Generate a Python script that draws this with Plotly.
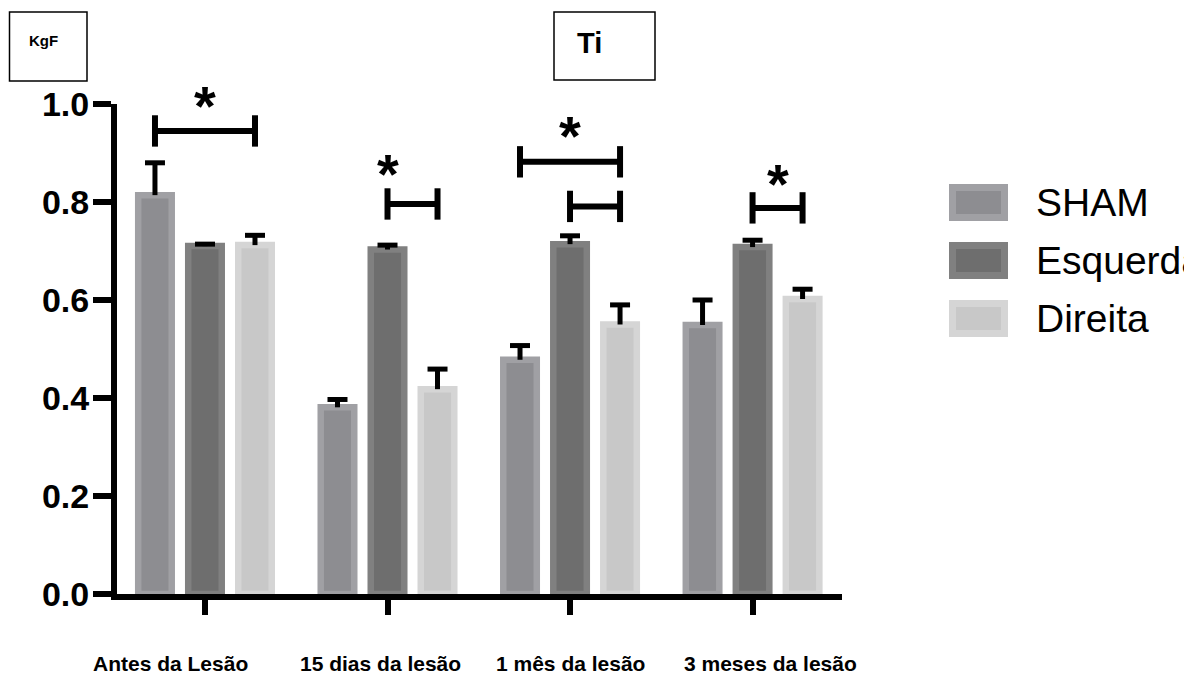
import plotly.graph_objects as go

categories = ["Antes da Lesão", "15 dias da lesão", "1 mês da lesão", "3 meses da lesão"]
series_names = ["SHAM", "Esquerda", "Direita"]

sham = [0.814, 0.381, 0.478, 0.549]
sham_err = [0.066, 0.016, 0.029, 0.051]
esquerda = [0.710, 0.703, 0.714, 0.708]
esquerda_err = [0.004, 0.009, 0.017, 0.014]
direita = [0.712, 0.418, 0.550, 0.602]
direita_err = [0.020, 0.041, 0.040, 0.020]

y_ticks = [0.0, 0.2, 0.4, 0.6, 0.8, 1.0]

# significance brackets: (group index, series a, series b, bracket level)
sig_brackets = [(0, 0, 2, 0.945), (1, 1, 2, 0.796), (2, 0, 2, 0.882), (2, 1, 2, 0.791), (3, 1, 2, 0.788)]
# stars: (bracket index, fraction along bracket, pixel gap above bracket)
sig_stars = [(0, 0.5, 32), (1, 0.0, 37), (2, 0.5, 33), (4, 0.5, 31)]

fill_inner = ["#8d8d91", "#6e6e6e", "#c8c8c8"]
fill_outer = ["#a0a0a4", "#808080", "#d5d5d5"]

values = [sham, esquerda, direita]
errors = [sham_err, esquerda_err, direita_err]

# layout geometry (pixels); page body has an 8px margin
OFF = 8
W, H = 1192 - OFF, 675 - OFF
ML, MR, MT, MB = 117 - OFF, 350, 104 - OFF, 81
PW, PH = W - ML - MR, H - MT - MB
BARGAP, BARGROUPGAP = 0.178, 0.33
XR = [-0.482, 3.49]
PX_PER_CAT = PW / (XR[1] - XR[0])
FONT = "Liberation Sans, Arial, sans-serif"


def px_x(p):  # screen pixel -> paper
    return (p - OFF - ML) / PW


def px_y(p):
    return (OFF + MT + PH - p) / PH


fig = go.Figure()
for i, name in enumerate(series_names):
    fig.add_trace(go.Bar(
        x=categories, y=values[i], name=name,
        marker=dict(color=fill_inner[i], line=dict(color=fill_outer[i], width=6.5)),
    ))

slot = (1 - BARGAP) / len(series_names)


def bar_x(g, s):
    return g + (s - (len(series_names) - 1) / 2) * slot


shapes = []
# error bars (upper only, T shaped)
cap_half = 10 / PX_PER_CAT
for s in range(len(series_names)):
    for g in range(len(categories)):
        xc = bar_x(g, s)
        top = values[s][g] + errors[s][g]
        ln = dict(color="black", width=5)
        shapes.append(dict(type="line", xref="x", yref="y", x0=xc, x1=xc,
                           y0=values[s][g], y1=top, line=ln))
        shapes.append(dict(type="line", xref="x", yref="y", x0=xc - cap_half, x1=xc + cap_half,
                           y0=top, y1=top, line=ln))

half = 0.032
for g, a, b, lvl in sig_brackets:
    xa, xb = bar_x(g, a), bar_x(g, b)
    ln = dict(color="black", width=6)
    shapes.append(dict(type="line", xref="x", yref="y", x0=xa, x1=xb, y0=lvl, y1=lvl, line=ln))
    shapes.append(dict(type="line", xref="x", yref="y", x0=xa, x1=xa, y0=lvl - half, y1=lvl + half, line=ln))
    shapes.append(dict(type="line", xref="x", yref="y", x0=xb, x1=xb, y0=lvl - half, y1=lvl + half, line=ln))

annotations = []
for bi, frac, gap in sig_stars:
    g, a, b, lvl = sig_brackets[bi]
    xa, xb = bar_x(g, a), bar_x(g, b)
    annotations.append(dict(x=xa + (xb - xa) * frac, y=lvl, xref="x", yref="y", text="*",
                            showarrow=False, xanchor="center", yanchor="middle", yshift=gap - 7,
                            font=dict(family=FONT, size=56, color="black", weight="bold")))

# category labels
label_shift = [-34, -7, 0, 18]
for c, sh in zip(categories, label_shift):
    annotations.append(dict(x=c, y=px_y(663), xref="x", yref="paper", text=c, showarrow=False,
                            xshift=sh, xanchor="center", yanchor="middle",
                            font=dict(family=FONT, size=21, color="black", weight="bold")))

# legend (manual)
for i, name in enumerate(series_names):
    top = 184 + 58 * i
    shapes.append(dict(type="rect", xref="paper", yref="paper", x0=px_x(949), x1=px_x(1008),
                       y0=px_y(top), y1=px_y(top + 37), fillcolor=fill_outer[i], line=dict(width=0)))
    shapes.append(dict(type="rect", xref="paper", yref="paper", x0=px_x(956), x1=px_x(1001),
                       y0=px_y(top + 7), y1=px_y(top + 30), fillcolor=fill_inner[i], line=dict(width=0)))
    annotations.append(dict(x=px_x(1034), y=px_y(top + 18.5), xref="paper", yref="paper", text=name,
                            showarrow=False, xanchor="left", yanchor="middle",
                            font=dict(family=FONT, size=39, color="black")))

# boxes top-left
shapes.append(dict(type="rect", xref="paper", yref="paper", x0=px_x(9.5), x1=px_x(87),
                   y0=px_y(12), y1=px_y(81), line=dict(color="black", width=1.5)))
shapes.append(dict(type="rect", xref="paper", yref="paper", x0=px_x(554), x1=px_x(655),
                   y0=px_y(12), y1=px_y(80), line=dict(color="black", width=1.5)))
annotations.append(dict(x=px_x(43), y=px_y(40), xref="paper", yref="paper", text="KgF", showarrow=False,
                        xanchor="center", yanchor="middle",
                        font=dict(family=FONT, size=15, color="black", weight="bold")))
annotations.append(dict(x=px_x(589), y=px_y(43), xref="paper", yref="paper", text="Ti", showarrow=False,
                        xanchor="center", yanchor="middle",
                        font=dict(family=FONT, size=29, color="black", weight="bold")))

fig.update_layout(
    width=W, height=H, barmode="group", bargap=BARGAP, bargroupgap=BARGROUPGAP,
    margin=dict(l=ML, r=MR, t=MT, b=MB, pad=0),
    plot_bgcolor="white", paper_bgcolor="white", showlegend=False,
    shapes=shapes, annotations=annotations,
    xaxis=dict(range=XR, tickvals=categories, showticklabels=False, ticks="outside", ticklen=15,
               tickwidth=6, tickcolor="black", showline=True, linewidth=6, linecolor="black",
               showgrid=False, zeroline=False),
    yaxis=dict(range=[0, 1], tickvals=y_ticks, tickformat=".1f", ticks="outside", ticklen=18,
               tickwidth=6, tickcolor="black", showline=True, linewidth=6, linecolor="black",
               showgrid=False, zeroline=False, ticklabelstandoff=-3,
               tickfont=dict(family=FONT, size=34, color="black", weight="bold")),
)

fig.write_html("out.html")
